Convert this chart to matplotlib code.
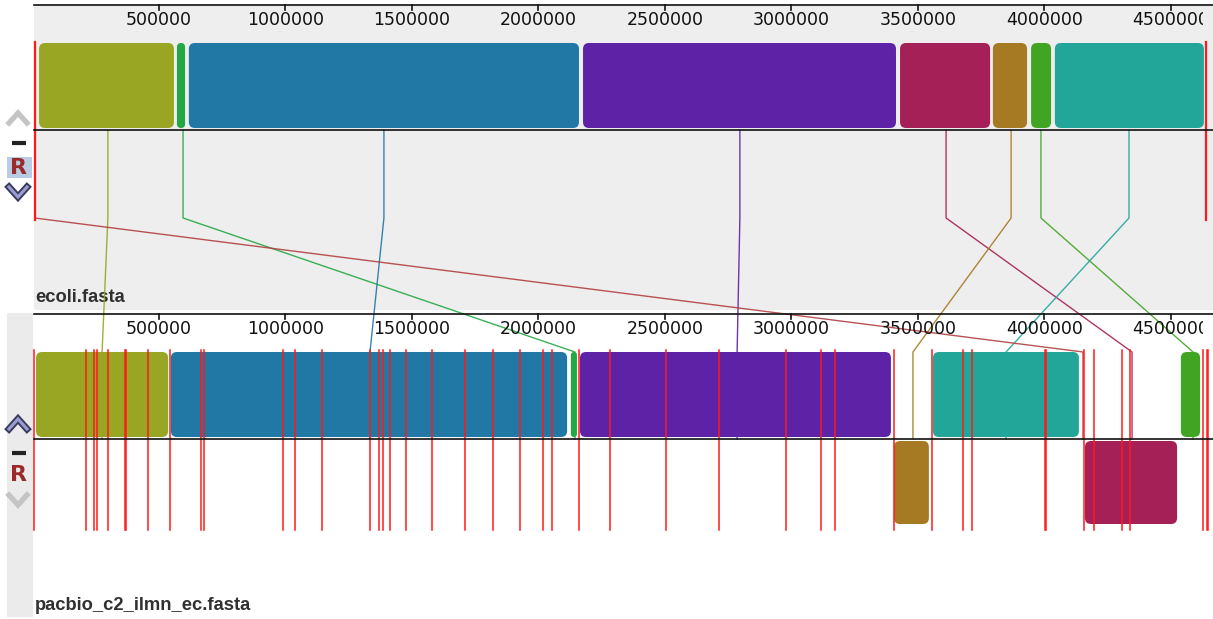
import matplotlib
matplotlib.use("Agg")
import matplotlib.pyplot as plt
from matplotlib.patches import Rectangle, FancyBboxPatch
from matplotlib.transforms import Bbox, TransformedBbox

W, H = 1213, 619

# ruler mapping: pixel = X0 + bp * SCALE
X0 = 32.5
SCALE = 253e-6

# LCB colours (same index in both genomes)
lcb_colors = ["#98a623", "#23a843", "#2178a5", "#5d22a5",
              "#a52056", "#a67a23", "#41a523", "#22a699"]

# ecoli.fasta - all blocks forward
ecoli_start = [26000, 571000, 618000, 2176000, 3429000, 3796000, 3947000, 4041000]
ecoli_end = [559000, 603000, 2160000, 3413000, 3785000, 3931000, 4026000, 4630000]
ecoli_anchor = [298000, 595000, 1389000, 2796000, 3611000, 3868000, 3986000, 4334000]
ecoli_breaks = [9000, 4638000]

# pacbio_c2_ilmn_ec.fasta
pacbio_start = [14000, 2128000, 547000, 2164000, 4160000, 3405000, 4539000, 3559000]
pacbio_end = [536000, 2152000, 2113000, 3393000, 4524000, 3543000, 4615000, 4136000]
pacbio_reverse = [False, False, False, False, True, True, False, False]
pacbio_anchor = [275000, 2144000, 1334000, 2785000, 4346000, 3480000, 4587000, 3848000]
pacbio_breaks = [7000, 211500, 242000, 255000, 298000, 367000, 371000, 458000,
                 545000, 667000, 679000, 989000, 1039000, 1143000, 1334000,
                 1371000, 1384000, 1413000, 1476000, 1580000, 1710000, 1820000,
                 1926000, 2018000, 2055000, 2160000, 2283000, 2504000, 2715000,
                 2979000, 3115000, 3171000, 3406000, 3554000, 3677000, 3713000,
                 4002000, 4005000, 4157000, 4196000, 4306000, 4337000, 4628000,
                 4643000, 4646000]

# the small red LCB at the ecoli origin
red_anchor = (9000, 4152000)
red_link_color = "#b24040"

ticks = [500000, 1000000, 1500000, 2000000, 2500000, 3000000, 3500000, 4000000, 4500000]
tick_labels = [str(t) for t in ticks]

genome_names = ["ecoli.fasta", "pacbio_c2_ilmn_ec.fasta"]


def px2bp(px):
    return (px - X0) / SCALE


fig = plt.figure(figsize=(W / 100, H / 100), dpi=100)
bg = fig.add_axes([0, 0, 1, 1])
bg.set_xlim(0, W)
bg.set_ylim(H, 0)
bg.axis("off")

ax = fig.add_axes([0, 0, 1, 1], zorder=2)
ax.set_xlim(px2bp(0), px2bp(W))
ax.set_ylim(H, 0)
ax.axis("off")
ax.patch.set_visible(False)

# panel backgrounds
bg.add_patch(Rectangle((34, 5), W - 34, 305, fc="#eeeeee", ec="none"))
bg.add_patch(Rectangle((7, 313), 26, 304, fc="#ebebeb", ec="none"))

# panel geometry (pixel rows)
panels = [
    dict(axis=5, label=20, top=43, h=85, center=130, rev=132, red=(42, 220)),
    dict(axis=314, label=329, top=352, h=85, center=439, rev=441, red=(350, 530)),
]

ruler_clip = TransformedBbox(Bbox.from_extents(px2bp(34), 0, px2bp(1203), H), ax.transData)

for p in panels:
    ax.plot([px2bp(34), px2bp(W)], [p["axis"], p["axis"]], color="#111111", lw=1.2, zorder=5)
    ax.plot([px2bp(34), px2bp(W)], [p["center"], p["center"]], color="#111111", lw=1.2, zorder=5)
    for t, lab in zip(ticks, tick_labels):
        ax.plot([t, t], [p["axis"], p["axis"] + 5], color="#111111", lw=1.2, zorder=5)
        txt = ax.text(t, p["label"], lab, ha="center", va="center", fontsize=12.5,
                      color="#111111", zorder=6)
        txt.set_clip_on(True)
        txt.set_clip_box(ruler_clip)


def block(start, end, y, h, color):
    w = end - start
    r = min(6 / SCALE, w / 2)
    ax.add_patch(FancyBboxPatch((start, y), w, h,
                                boxstyle=f"round,pad=0,rounding_size={r}",
                                mutation_aspect=SCALE, fc=color, ec="none", zorder=3))


top, bot = panels
for i, c in enumerate(lcb_colors):
    block(ecoli_start[i], ecoli_end[i], top["top"], top["h"], c)
    y = bot["rev"] if pacbio_reverse[i] else bot["top"]
    block(pacbio_start[i], pacbio_end[i], y, 83 if pacbio_reverse[i] else bot["h"], c)

# LCB boundaries
for b in ecoli_breaks:
    ax.plot([b, b], top["red"], color="#ff1a1a", lw=1.6, zorder=4)
for b in pacbio_breaks:
    ax.plot([b, b], bot["red"], color="#ff1a1a", lw=1.1, zorder=4)

# connecting lines between homologous positions
bend_y = 218
links = list(zip(ecoli_anchor, pacbio_anchor, lcb_colors)) + [(red_anchor[0], red_anchor[1], red_link_color)]
for xa, xb, c in links:
    ax.plot([xa, xa, xb, xb], [top["center"], bend_y, bot["top"], bot["center"]],
            color=c, lw=1.0, alpha=0.9, zorder=2.5)

# genome names
for name, y in zip(genome_names, [297, 605]):
    bg.text(35, y, name, ha="left", va="center", fontsize=13.2, fontweight="bold",
            family="Liberation Sans", color="#303030", zorder=6)


# side controls
def chevron(cx, cy, up, color, outline=None):
    d = -1 if up else 1
    xs = [cx - 9, cx, cx + 9]
    ys = [cy - 5 * d, cy + 5 * d, cy - 5 * d]
    if outline:
        bg.plot(xs, ys, color=outline, lw=5, solid_joinstyle="miter", zorder=5)
        bg.plot(xs, ys, color=color, lw=2.2, solid_joinstyle="miter", zorder=6)
    else:
        bg.plot(xs, ys, color=color, lw=3.8, solid_joinstyle="miter", zorder=5)


def controls(y_up, y_dash, y_r, y_down, up_active, r_box):
    if up_active:
        chevron(18, y_up, True, "#9c9cd4", "#3c3c5c")
    else:
        chevron(18, y_up, True, "#c4c4c4")
    bg.plot([12, 26], [y_dash, y_dash], color="#222222", lw=3, solid_capstyle="butt", zorder=5)
    if r_box:
        bg.add_patch(Rectangle((7, y_r - 10), 25, 21, fc="#b8cce4", ec="none", zorder=4))
    bg.text(19, y_r + 1, "R", ha="center", va="center", fontsize=16, fontweight="bold",
            color="#9b2a2a", zorder=6)
    if up_active:
        chevron(18, y_down, False, "#c4c4c4")
    else:
        chevron(18, y_down, False, "#9c9cd4", "#3c3c5c")


controls(118, 143, 167, 192, False, True)
controls(424, 453, 474, 500, True, False)

fig.savefig("out.png", dpi=100)
